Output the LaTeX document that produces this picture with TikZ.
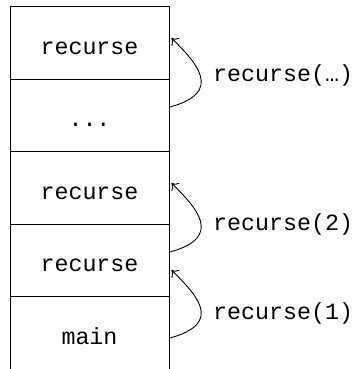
\documentclass[tikz,border=0pt]{standalone}
\usepackage{fontspec}
\setmonofont{Liberation Mono}
\usetikzlibrary{arrows.meta}
\newcommand\codefont{\ttfamily\fontsize{23.3bp}{28bp}\selectfont}
\begin{document}
\begin{tikzpicture}[x=1bp,y=-1bp,
  frame/.style={draw, line width=0.9bp, minimum width=159bp, minimum height=72.5bp,
    inner sep=0pt, text height=22bp, text depth=0pt, font=\codefont},
  call/.style={draw, line width=0.9bp, -{To[length=6bp,width=11bp]}},
  calllabel/.style={anchor=base west, inner sep=0pt, font=\codefont}]
\useasboundingbox (0,0) rectangle (352,369);
\node[frame] (f1) at (89.5,43) {recurse};
\node[frame] (f2) at (89.5,115.5) {...};
\node[frame] (f3) at (89.5,188) {recurse};
\node[frame] (f4) at (89.5,260.5) {recurse};
\node[frame] (f5) at (89.5,333) {main};
\draw[call] ([xshift=0.5bp,yshift=8.5bp]f2.east) .. controls +(55,-15) and +(24,24) .. ([xshift=2bp,yshift=5bp]f1.east);
\draw[call] ([xshift=0.5bp,yshift=8.5bp]f4.east) .. controls +(55,-15) and +(24,24) .. ([xshift=2bp,yshift=5bp]f3.east);
\draw[call] ([xshift=0.5bp,yshift=-5bp]f5.east) .. controls +(55,-15) and +(24,24) .. ([xshift=2bp,yshift=-9.5bp]f4.east);
\node[calllabel] (l3) at (213,81.7) {recurse(…)};
\node[calllabel] (l2) at (213,230) {recurse(2)};
\node[calllabel] (l1) at (213,319) {recurse(1)};
\end{tikzpicture}
\end{document}
